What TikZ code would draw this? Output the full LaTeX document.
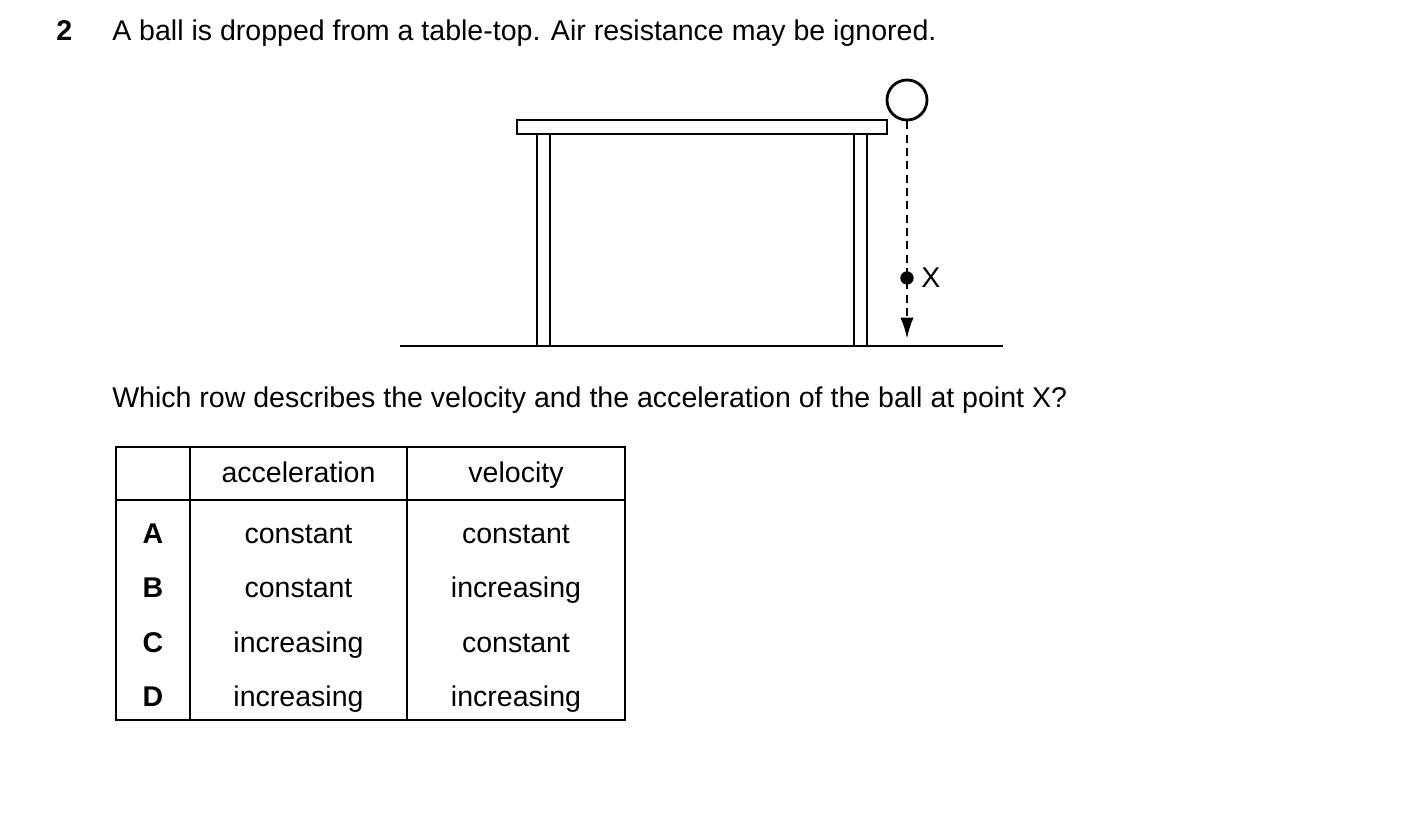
\documentclass[tikz,border=0pt]{standalone}
\usepackage{fontspec}
\setmainfont{Liberation Sans}
\usetikzlibrary{arrows.meta}
\begin{document}
\begin{tikzpicture}[x=0.75pt,y=-0.75pt,
  fig/.style={line width=2.1pt},
  txt/.style={font=\fontsize{21.4}{25}\selectfont,inner sep=0pt},
  cell/.style={font=\fontsize{21.4}{25}\selectfont,inner sep=0pt,anchor=base}]
\useasboundingbox (0,0) rectangle (1403,813);
\node[txt,anchor=base west,font=\bfseries\fontsize{21.4}{25}\selectfont] (num) at (56,41) {2};
\node[txt,anchor=base west] (q1) at (112,41) {A ball is dropped from a table-top. Air resistance may be ignored.};
% table furniture
\draw[fig] (517,120) rectangle (887,134);
\draw[fig] (537,134) -- (537,346) (550,134) -- (550,346);
\draw[fig] (854,134) -- (854,346) (867,134) -- (867,346);
\draw[fig] (400,346) -- (1003,346);
\node[circle,draw,fig,inner sep=0pt,minimum size=30pt] (ball) at (907,100) {};
\coordinate (tip) at (907,339);
\draw[fig,dash pattern=on 6pt off 4pt,-{Latex[length=16pt,width=10pt]}] (ball.south) -- (tip);
\node[circle,fill,inner sep=0pt,minimum size=10pt] (X) at (907,278) {};
\node[txt,anchor=west] (xl) at (921,278) {X};
\node[txt,anchor=base west] (q2) at (112,407) {Which row describes the velocity and the acceleration of the ball at point X?};
% answer table
\draw[line width=1pt] (116,447) rectangle (625,720);
\draw[line width=1pt] (116,500) -- (625,500);
\draw[line width=1pt] (190,447) -- (190,720) (407,447) -- (407,720);
\node[cell] (h1) at (298.5,482) {acceleration};
\node[cell] (h2) at (516,482) {velocity};
\foreach \l/\a/\v/\y in {A/constant/constant/535,B/constant/increasing/589,C/increasing/constant/644,D/increasing/increasing/698}{
  \node[cell,font=\bfseries\fontsize{21.4}{25}\selectfont] (r\l) at (153,\y+8) {\l};
  \node[cell] (a\l) at (298.5,\y+8) {\a};
  \node[cell] (v\l) at (516,\y+8) {\v};
}
\end{tikzpicture}
\end{document}
